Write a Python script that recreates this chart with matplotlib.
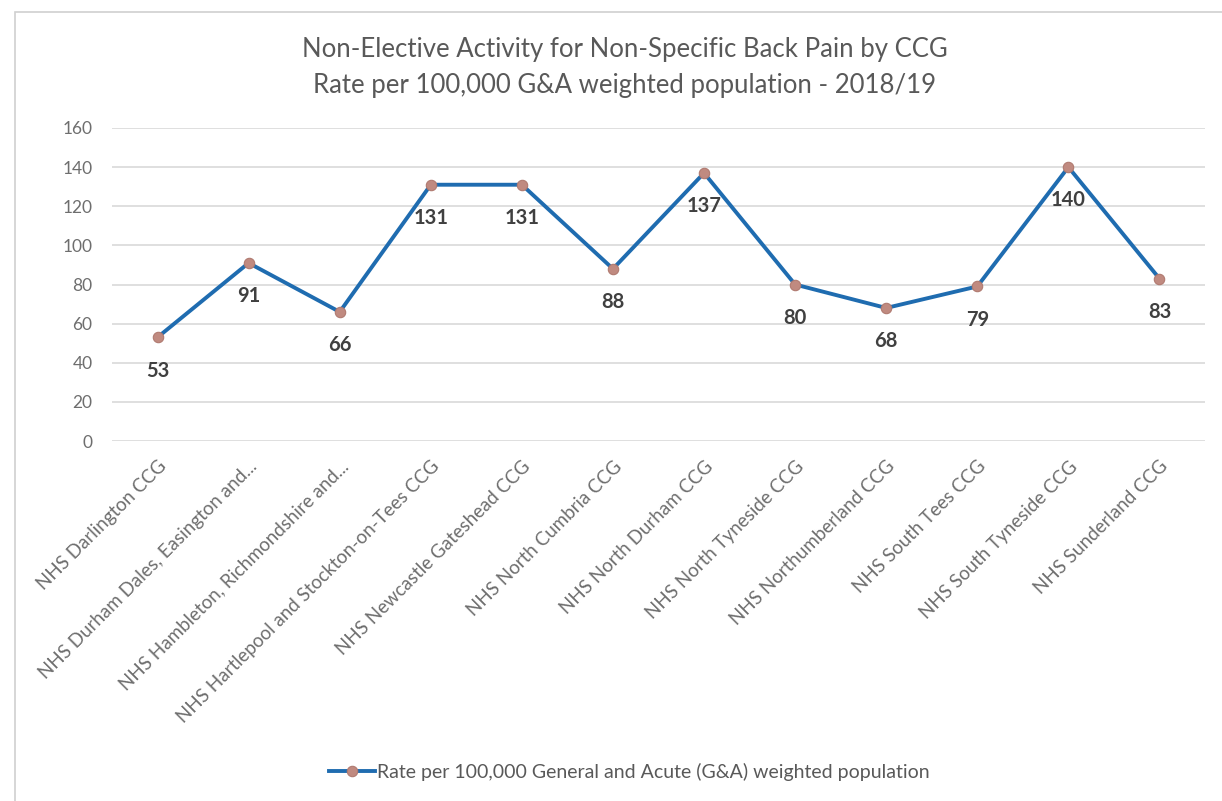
import matplotlib
matplotlib.use('Agg')
import matplotlib.pyplot as plt
from matplotlib.patches import Rectangle

CCGS = [
    'NHS Darlington CCG',
    'NHS Durham Dales, Easington and...',
    'NHS Hambleton, Richmondshire and...',
    'NHS Hartlepool and Stockton-on-Tees CCG',
    'NHS Newcastle Gateshead CCG',
    'NHS North Cumbria CCG',
    'NHS North Durham CCG',
    'NHS North Tyneside CCG',
    'NHS Northumberland CCG',
    'NHS South Tees CCG',
    'NHS South Tyneside CCG',
    'NHS Sunderland CCG',
]
RATES = [53, 91, 66, 131, 131, 88, 137, 80, 68, 79, 140, 83]
Y_TICKS = [0, 20, 40, 60, 80, 100, 120, 140, 160]

LINE = '#1F6CB0'
MARK = '#C08A80'
GRID = '#D9D9D9'
TEXT = '#595959'
SOFT = '#6E6E6E'
LABEL = '#404040'

plt.rcParams['font.family'] = ['Lato', 'DejaVu Sans']

fig = plt.figure(figsize=(12.22, 8.01), dpi=100)
fig.patch.set_facecolor('white')
fig.patches.append(Rectangle((15 / 1222, -0.01), 1.0, 1 - 12 / 801 + 0.01,
                             transform=fig.transFigure, fill=False,
                             edgecolor='#D0D0D0', lw=1.2))

ax = fig.add_axes([112 / 1222, 1 - 441 / 801, (1205 - 112) / 1222, (441 - 128) / 801])
x = list(range(len(CCGS)))
ax.plot(x, RATES, color=LINE, lw=2.8, marker='o', markersize=7.5,
        markerfacecolor=MARK, markeredgecolor='#B07A70', markeredgewidth=0.8,
        label='Rate per 100,000 General and Acute (G&A) weighted population',
        zorder=3)

for xi, v in zip(x, RATES):
    ax.annotate(str(v), (xi, v), xytext=(0, -24), textcoords='offset points',
                ha='center', va='center', fontsize=14.5, color=LABEL,
                fontweight='bold')

ax.set_xlim(-0.5, len(CCGS) - 0.5)
ax.set_ylim(0, 160)
ax.set_yticks(Y_TICKS)
ax.set_yticklabels([str(t) for t in Y_TICKS], color=SOFT, fontsize=12.5)
ax.set_xticks(x)
ax.set_xticklabels(CCGS, rotation=45, ha='right', rotation_mode='anchor',
                   color=SOFT, fontsize=13.5)
ax.tick_params(axis='y', length=0, pad=14)
ax.tick_params(axis='x', length=0, pad=12)
ax.grid(axis='y', color=GRID, lw=1.2, zorder=0)
for sp in ax.spines.values():
    sp.set_visible(False)

fig.text(0.511, 1 - 50 / 801, 'Non-Elective Activity for Non-Specific Back Pain by CCG',
         ha='center', va='center', fontsize=18.5, color=TEXT)
fig.text(0.511, 1 - 85 / 801, 'Rate per 100,000 G&A weighted population - 2018/19',
         ha='center', va='center', fontsize=18.5, color=TEXT)

fig.legend(loc='center', bbox_to_anchor=(0.515, 1 - 772 / 801), frameon=False,
           fontsize=14, labelcolor=TEXT, handlelength=2.4, handletextpad=0.1)

plt.savefig('out.png', dpi=100, facecolor='white')
plt.close()
